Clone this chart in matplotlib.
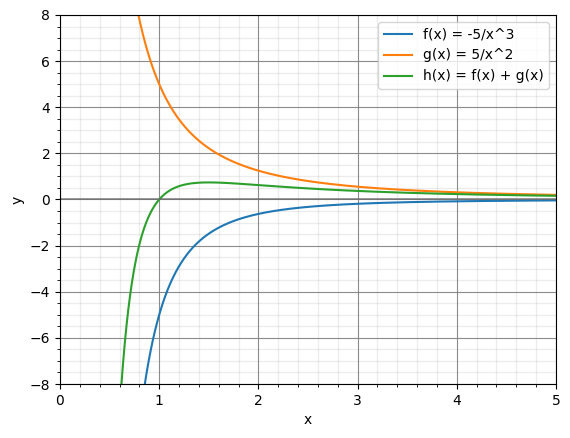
import numpy as np
import matplotlib
matplotlib.use("Agg")
from matplotlib import pyplot as plt
from matplotlib.ticker import AutoMinorLocator

# curves as stated in the legend
x = np.linspace(0.5, 5, 1000)
f = -5 / x**3
g = 5 / x**2
h = f + g

labels = ["f(x) = -5/x^3", "g(x) = 5/x^2", "h(x) = f(x) + g(x)"]

fig = plt.figure(figsize=(5.7, 4.38), dpi=100)
ax = fig.add_axes([60/570, 54/438, 496/570, 369/438])

ax.plot(x, f, label=labels[0])
ax.plot(x, g, label=labels[1])
ax.plot(x, h, label=labels[2])
ax.axhline(0, color='dimgray', linewidth=1.2, alpha=0.8)

ax.set_xlim(0, 5)
ax.set_ylim(-8, 8)
ax.xaxis.set_minor_locator(AutoMinorLocator(5))
ax.yaxis.set_minor_locator(AutoMinorLocator(4))
ax.grid(which='major', color='gray', linewidth=0.8, alpha=0.9)
ax.grid(which='minor', color='gray', linewidth=0.9, alpha=0.15)
ax.set_xlabel('x')
ax.set_ylabel('y')
ax.legend(loc='upper right')

fig.savefig("out.png", dpi=100)
